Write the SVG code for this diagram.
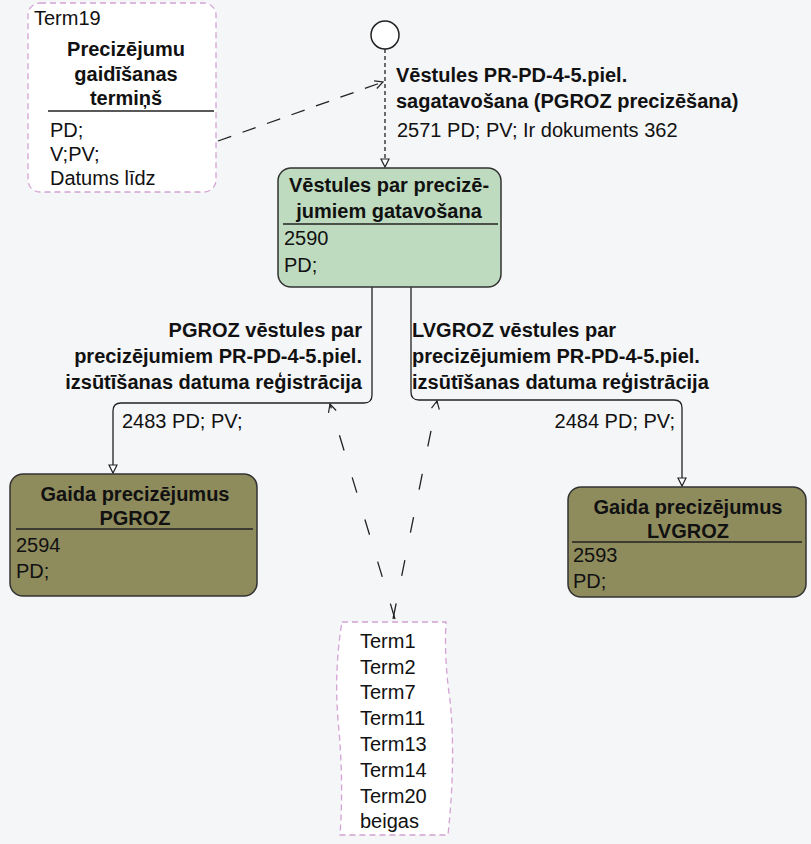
<svg xmlns="http://www.w3.org/2000/svg" width="811" height="844" viewBox="0 0 811 844">
<defs>
<style>
.t{font-family:"Liberation Sans",Arial,sans-serif;font-size:20px;fill:#111}
.b{font-family:"Liberation Sans",Arial,sans-serif;font-size:20px;font-weight:bold;fill:#111}
.node{stroke:#333;stroke-width:1.5}
.note{fill:#fff;stroke:#d4a2d4;stroke-width:1.3;stroke-dasharray:6 4}
.sep{stroke:#222;stroke-width:1.5}
.solid{fill:none;stroke:#222;stroke-width:1.3}
.dash{fill:none;stroke:#222;stroke-width:1.3;stroke-dasharray:14 12}
.dash2{fill:none;stroke:#222;stroke-width:1.3;stroke-dasharray:16 28}
.dot{fill:none;stroke:#222;stroke-width:1.3;stroke-dasharray:4 3}
</style>
<marker id="tri" viewBox="0 0 10 10" refX="9" refY="5" markerWidth="10" markerHeight="10" markerUnits="userSpaceOnUse" orient="auto">
<path d="M1,1 L9,5 L1,9 Z" fill="#fff" stroke="#222" stroke-width="1.2"/>
</marker>
<marker id="chev" viewBox="0 0 10 10" refX="9" refY="5" markerWidth="10" markerHeight="10" markerUnits="userSpaceOnUse" orient="auto">
<path d="M1,1 L9,5 L1,9" fill="none" stroke="#222" stroke-width="1.2"/>
</marker>
</defs>
<rect width="811" height="844" fill="#f5f6f8"/>

<g id="connectors">
<path class="dot" d="M385,49 V167" marker-end="url(#tri)"/>
<path class="dash" d="M218,141 L383,82" marker-end="url(#chev)"/>
<path class="solid" d="M372,287 V395 Q372,403 364,403 H121 Q113,403 113,411 V473" marker-end="url(#tri)"/>
<path class="solid" d="M411,287 V392 Q411,400 419,400 H674 Q682,400 682,408 V486" marker-end="url(#tri)"/>
<path class="dash2" d="M395,619 L330,404" marker-end="url(#chev)"/>
<path class="dash2" d="M393,619 L437,401" marker-end="url(#chev)"/>
<text class="b" x="396" y="82">Vēstules PR-PD-4-5.piel.</text>
<text class="b" x="396" y="108">sagatavošana (PGROZ precizēšana)</text>
<text class="t" x="397" y="137">2571 PD; PV; Ir dokuments 362</text>
<text class="b" x="362" y="337" text-anchor="end">PGROZ vēstules par</text>
<text class="b" x="362" y="363" text-anchor="end">precizējumiem PR-PD-4-5.piel.</text>
<text class="b" x="362" y="389" text-anchor="end">izsūtīšanas datuma reģistrācija</text>
<text class="b" x="412" y="337">LVGROZ vēstules par</text>
<text class="b" x="412" y="363">precizējumiem PR-PD-4-5.piel.</text>
<text class="b" x="412" y="389">izsūtīšanas datuma reģistrācija</text>
<text class="t" x="122" y="428">2483 PD; PV;</text>
<text class="t" x="675" y="428" text-anchor="end">2484 PD; PV;</text>
</g>

<g id="start">
<circle cx="385" cy="35" r="14" fill="#fff" stroke="#222" stroke-width="1.5"/>
</g>

<g id="term19">
<rect class="note" x="28" y="3" width="188" height="189" rx="12"/>
<text class="t" x="34" y="25">Term19</text>
<text class="b" x="126" y="56" text-anchor="middle">Precizējumu</text>
<text class="b" x="126" y="81" text-anchor="middle">gaidīšanas</text>
<text class="b" x="126" y="105" text-anchor="middle">termiņš</text>
<line class="sep" x1="48" y1="111" x2="214" y2="111"/>
<text class="t" x="50" y="137">PD;</text>
<text class="t" x="50" y="161">V;PV;</text>
<text class="t" x="50" y="185">Datums līdz</text>
</g>

<g id="gatavosana">
<rect class="node" x="278" y="168" width="223" height="119" rx="13" fill="#bfdbbf"/>
<text class="b" x="389" y="192" text-anchor="middle">Vēstules par precizē-</text>
<text class="b" x="389" y="218" text-anchor="middle">jumiem gatavošana</text>
<line class="sep" x1="283" y1="224" x2="498" y2="224"/>
<text class="t" x="284" y="245">2590</text>
<text class="t" x="284" y="272">PD;</text>
</g>

<g id="gaida-pgroz">
<rect class="node" x="10" y="474" width="247" height="122" rx="13" fill="#8e8b5d"/>
<text class="b" x="135" y="501" text-anchor="middle">Gaida precizējumus</text>
<text class="b" x="135" y="525" text-anchor="middle">PGROZ</text>
<line class="sep" x1="16" y1="529" x2="253" y2="529"/>
<text class="t" x="16" y="552">2594</text>
<text class="t" x="16" y="578">PD;</text>
</g>

<g id="gaida-lvgroz">
<rect class="node" x="568" y="487" width="238" height="110" rx="13" fill="#8e8b5d"/>
<text class="b" x="688" y="514" text-anchor="middle">Gaida precizējumus</text>
<text class="b" x="688" y="538" text-anchor="middle">LVGROZ</text>
<line class="sep" x1="572" y1="542" x2="802" y2="542"/>
<text class="t" x="573" y="562">2593</text>
<text class="t" x="573" y="588">PD;</text>
</g>

<g id="terms">
<path class="note" d="M342,622 H446 Q444,660 450,700 Q456,760 448,835 H340 Q344,780 338,720 Q334,670 342,622 Z"/>
<text class="t" x="360" y="648">Term1</text>
<text class="t" x="360" y="674">Term2</text>
<text class="t" x="360" y="699">Term7</text>
<text class="t" x="360" y="725">Term11</text>
<text class="t" x="360" y="751">Term13</text>
<text class="t" x="360" y="777">Term14</text>
<text class="t" x="360" y="803">Term20</text>
<text class="t" x="360" y="828">beigas</text>
</g>
</svg>
